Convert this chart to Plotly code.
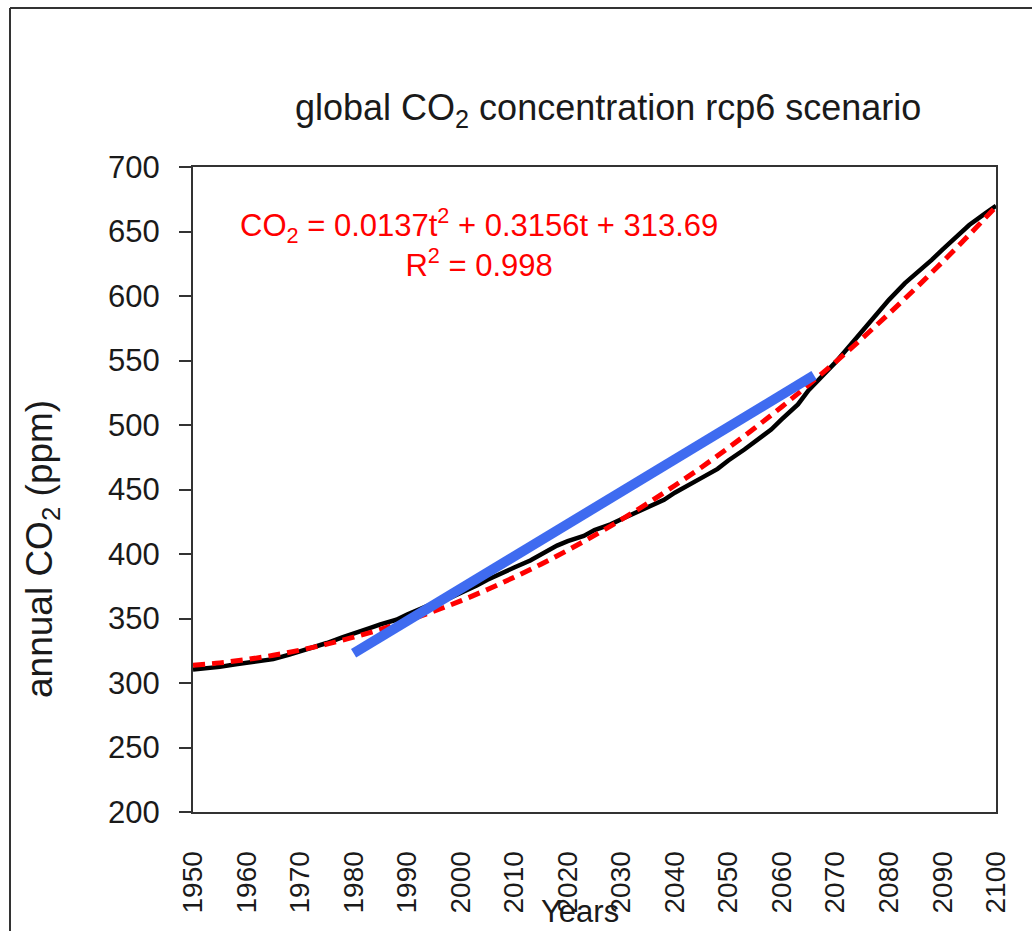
import plotly.graph_objects as go

# --- data ---
years_data = [1950, 1953, 1955, 1958, 1960, 1963, 1965, 1968, 1970, 1973, 1975, 1978, 1980,
              1983, 1985, 1988, 1990, 1993, 1995, 1998, 2000, 2003, 2005, 2008, 2010,
              2013, 2015, 2018, 2020, 2023, 2025, 2028, 2030, 2033, 2035, 2038, 2040,
              2043, 2045, 2048, 2050, 2053, 2055, 2058, 2060, 2063, 2065, 2068, 2070,
              2073, 2075, 2078, 2080, 2083, 2085, 2088, 2090, 2093, 2095, 2098, 2100]
co2_data = [310.5, 311.5, 312.5, 314.5, 315.5, 317.0, 318.5, 322.0, 324.5, 328.0, 331.0, 335.5, 338.0,
            342.5, 345.5, 349.0, 353.0, 358.5, 362.0, 366.0, 369.5, 375.5, 380.0, 386.0, 389.5,
            395.0, 400.0, 406.5, 410.0, 414.0, 418.5, 423.0, 427.0, 432.5, 437.0, 442.0, 447.5,
            454.0, 459.0, 466.0, 472.5, 481.0, 487.5, 496.5, 504.5, 516.0, 527.0, 540.0, 548.5,
            563.0, 572.5, 588.0, 597.0, 610.0, 617.0, 628.0, 636.0, 648.0, 655.0, 664.0, 670.0]

years_fit = [1950, 1955, 1960, 1965, 1970, 1975, 1980, 1985, 1990, 1995, 2000, 2005, 2010,
             2015, 2020, 2025, 2030, 2035, 2040, 2045, 2050, 2055, 2060, 2065, 2070,
             2075, 2080, 2085, 2090, 2095, 2100]
co2_fit = [313.7, 315.6, 318.2, 321.5, 325.5, 330.1, 335.5, 341.5, 348.2, 355.6, 363.7, 372.5, 382.0,
           392.1, 402.9, 414.4, 426.6, 439.5, 453.1, 467.3, 482.3, 497.9, 514.2, 531.2, 548.8,
           567.2, 586.3, 606.0, 626.4, 647.5, 669.3]

years_trend = [1980, 2066]
co2_trend = [323.0, 538.5]

x_ticks = list(range(1950, 2101, 10))
y_ticks = list(range(200, 701, 50))

FONT = "Liberation Sans, Arial, sans-serif"
TXT = "#1a1a1a"

fig = go.Figure()
fig.add_trace(go.Scatter(x=years_data, y=co2_data, mode="lines",
                         line=dict(color="black", width=4.5), showlegend=False))
fig.add_trace(go.Scatter(x=years_fit, y=co2_fit, mode="lines",
                         line=dict(color="#ff0000", width=5, dash="12px,7px", shape="spline"),
                         showlegend=False))
fig.add_trace(go.Scatter(x=years_trend, y=co2_trend, mode="lines",
                         line=dict(color="#3f6bf0", width=10), showlegend=False))

L, R, T, B = 193, 36, 167, 119
W, H = 1032, 931
pw, ph = W - L - R, H - T - B


def px(xp):
    return (xp - L) / pw


def py(yp):
    return (H - B - yp) / ph


fig.update_layout(
    width=W, height=H,
    margin=dict(l=L, r=R, t=T, b=B, pad=0),
    paper_bgcolor="white", plot_bgcolor="white",
    font=dict(family=FONT, color=TXT),
    xaxis=dict(range=[1950, 2100], tickmode="array", tickvals=x_ticks,
               ticktext=[str(v) for v in x_ticks], tickangle=-90,
               tickfont=dict(size=28, family=FONT, color=TXT),
               ticks="", showgrid=False, zeroline=False,
               showline=True, linecolor="#333333", linewidth=2, mirror=True,
               ticklabelstandoff=26),
    yaxis=dict(range=[200, 700], tickmode="array", tickvals=y_ticks,
               ticktext=[str(v) for v in y_ticks],
               tickfont=dict(size=31, family=FONT, color=TXT),
               ticks="outside", ticklen=12, tickwidth=2, tickcolor="#333333",
               showgrid=False, zeroline=False,
               showline=True, linecolor="#333333", linewidth=2, mirror=True,
               ticklabelstandoff=13),
    annotations=[
        dict(text="global CO<sub>2</sub> concentration rcp6 scenario",
             x=px(608), y=py(110), xref="paper", yref="paper",
             xanchor="center", yanchor="middle", showarrow=False,
             font=dict(size=36, family=FONT, color=TXT)),
        dict(text="annual CO<sub>2</sub> (ppm)",
             x=px(42), y=py(549), xref="paper", yref="paper", textangle=-90,
             xanchor="center", yanchor="middle", showarrow=False,
             font=dict(size=37, family=FONT, color=TXT)),
        dict(text="CO<sub>2</sub> = 0.0137t<sup>2</sup> + 0.3156t + 313.69<br>R<sup>2</sup> = 0.998",
             x=px(479), y=py(243), xref="paper", yref="paper",
             xanchor="center", yanchor="middle", showarrow=False, align="center",
             font=dict(size=31, family=FONT, color="#ff0000")),
        dict(text="Years",
             x=px(580), y=py(911), xref="paper", yref="paper",
             xanchor="center", yanchor="middle", showarrow=False,
             font=dict(size=31, family=FONT, color=TXT)),
    ],
    shapes=[
        dict(type="line", xref="paper", yref="paper",
             x0=px(10), x1=px(1045), y0=py(8), y1=py(8),
             line=dict(color="#333333", width=2)),
        dict(type="line", xref="paper", yref="paper",
             x0=px(10), x1=px(10), y0=py(8), y1=py(945),
             line=dict(color="#333333", width=2)),
    ],
)

fig.write_html("out.html")
